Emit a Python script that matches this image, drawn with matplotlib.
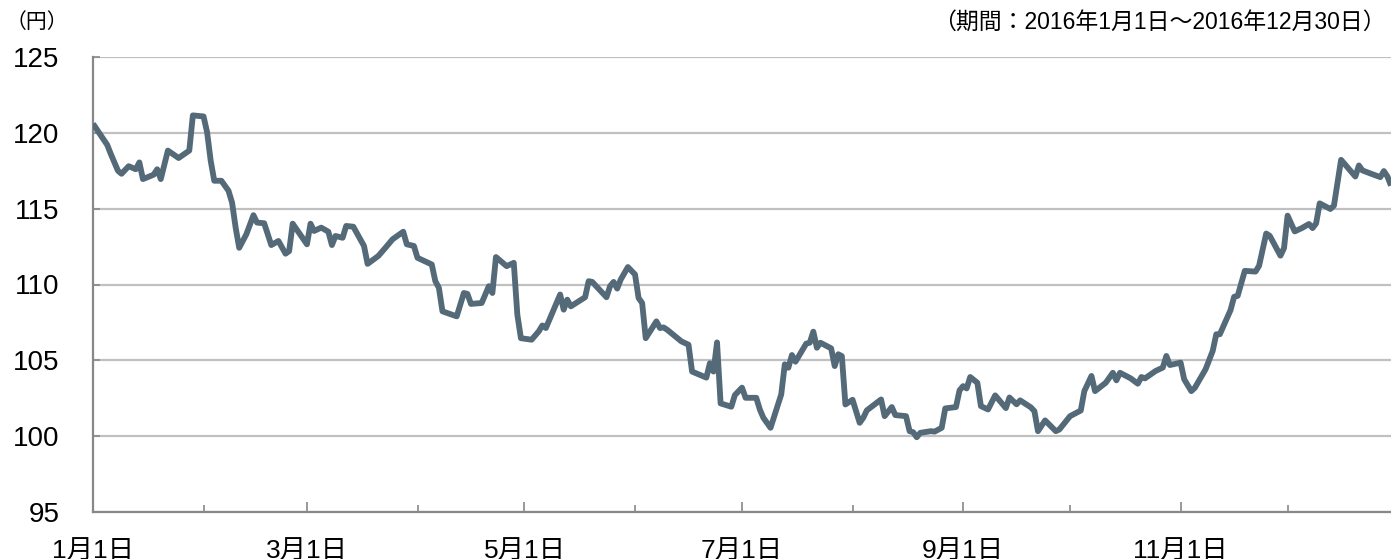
import pandas as pd
import matplotlib
matplotlib.use('Agg')
import matplotlib.pyplot as plt

plt.rcParams['font.family'] = ['Liberation Sans', 'Noto Sans CJK JP', 'DejaVu Sans']

# 2016年 為替レート（円） 1月1日からの経過日数と値
days_from_jan1 = [
    0, 2, 4, 5, 7, 8, 10, 12, 13, 14, 17, 18, 19, 21, 24, 27, 28, 31, 32, 33,
    34, 36, 38, 39, 40, 41, 43, 45, 46, 48, 50, 52, 54, 55, 56, 60, 61, 62, 64, 66,
    67, 68, 70, 71, 73, 76, 77, 80, 82, 84, 87, 88, 90, 91, 95, 96, 97, 98, 102, 104,
    105, 106, 109, 111, 112, 113, 116, 118, 119, 120, 123, 125, 126, 127, 129, 131, 132, 133, 134, 138,
    139, 140, 144, 145, 146, 147, 148, 150, 152, 153, 154, 155, 158, 159, 160, 161, 165, 167, 168, 172,
    173, 174, 175, 176, 179, 180, 182, 183, 186, 187, 188, 190, 193, 194, 195, 196, 197, 200, 201, 202,
    203, 204, 207, 208, 209, 210, 211, 213, 215, 216, 217, 221, 222, 224, 225, 228, 229, 230, 231, 232,
    235, 236, 238, 239, 242, 243, 244, 245, 246, 248, 249, 251, 253, 256, 257, 259, 260, 263, 264, 265,
    267, 270, 271, 274, 277, 278, 280, 281, 284, 286, 287, 288, 291, 293, 294, 295, 298, 300, 301, 302,
    305, 306, 308, 309, 312, 314, 315, 316, 319, 320, 321, 323, 326, 327, 329, 330, 333, 334, 335, 337,
    339, 341, 342, 343, 344, 347, 348, 350, 354, 355, 356, 358, 361, 362, 363, 364,
]
rate = [
    120.6, 119.9, 119.2, 118.6, 117.5, 117.3, 117.8, 117.6, 118.05, 116.95, 117.24, 117.6, 116.95, 118.83, 118.34, 118.83, 121.15, 121.08, 120.04, 118.17,
    116.84, 116.84, 116.18, 115.4, 113.75, 112.42, 113.31, 114.57, 114.08, 114.04, 112.6, 112.87, 112.03, 112.2, 114.01, 112.65, 114.01, 113.53, 113.75, 113.48,
    112.6, 113.2, 113.08, 113.86, 113.81, 112.54, 111.36, 111.88, 112.42, 112.98, 113.48, 112.65, 112.54, 111.76, 111.32, 110.22, 109.78, 108.23, 107.9, 109.44,
    109.38, 108.72, 108.78, 109.89, 109.44, 111.81, 111.21, 111.43, 108.01, 106.46, 106.36, 106.91, 107.3, 107.13, 108.23, 109.34, 108.34, 109.0, 108.56, 109.16,
    110.22, 110.17, 109.16, 109.89, 110.17, 109.73, 110.33, 111.15, 110.66, 109.11, 108.78, 106.46, 107.57, 107.13, 107.17, 107.02, 106.25, 106.03, 104.26, 103.86,
    104.81, 104.26, 106.18, 102.16, 101.94, 102.71, 103.2, 102.53, 102.53, 101.76, 101.21, 100.55, 102.75, 104.74, 104.51, 105.35, 104.91, 106.1, 106.16, 106.89,
    105.83, 106.16, 105.79, 104.62, 105.4, 105.28, 102.09, 102.4, 100.88, 101.21, 101.7, 102.42, 101.32, 101.92, 101.39, 101.32, 100.33, 100.26, 99.93, 100.22,
    100.33, 100.3, 100.55, 101.83, 101.92, 103.02, 103.3, 103.15, 103.9, 103.52, 101.98, 101.76, 102.69, 101.85, 102.55, 102.1, 102.36, 101.9, 101.65, 100.33,
    101.04, 100.33, 100.44, 101.32, 101.69, 102.97, 103.97, 102.97, 103.52, 104.18, 103.68, 104.18, 103.81, 103.46, 103.9, 103.81, 104.3, 104.52, 105.29, 104.69,
    104.85, 103.75, 102.97, 103.19, 104.41, 105.62, 106.72, 106.72, 108.31, 109.19, 109.25, 110.9, 110.85, 111.23, 113.36, 113.21, 111.9, 112.4, 114.54, 113.5,
    113.72, 113.99, 113.72, 114.03, 115.35, 114.98, 115.2, 118.22, 117.12, 117.85, 117.52, 117.34, 117.08, 117.48, 117.12, 116.52,
]
y_ticks = [95, 100, 105, 110, 115, 120, 125]
unit_label = '（円）'
period_label = '（期間：2016年1月1日～2016年12月30日）'

start = pd.Timestamp('2016-01-01')
month_starts = pd.date_range('2016-01-01', periods=12, freq='MS')
month_pos = [(m - start).days for m in month_starts]

fig = plt.figure(figsize=(13.91, 5.59), dpi=100)
ax = fig.add_axes([93 / 1391, 47 / 559, 1298 / 1391, 455 / 559])

ax.plot(days_from_jan1, rate, color='#546a79', linewidth=4.2,
        solid_joinstyle='round', solid_capstyle='butt', zorder=3)

ax.set_xlim(0, 364)
ax.set_ylim(95, 125)
ax.set_yticks(y_ticks)
ax.set_yticklabels([str(v) for v in y_ticks])
ax.yaxis.grid(True, color='#c0c0c0', linewidth=1.6)
ax.set_axisbelow(True)

ax.set_xticks(month_pos[::2])
ax.set_xticklabels([f'{m.month}月1日' for m in month_starts[::2]])
ax.set_xticks(month_pos[1::2], minor=True)

for s in ['top', 'right']:
    ax.spines[s].set_visible(False)
for s in ['left', 'bottom']:
    ax.spines[s].set_color('#888888')
    ax.spines[s].set_linewidth(1.6)

ax.tick_params(axis='y', direction='in', length=5, width=1.2, color='#888888',
               labelsize=20, pad=24)
ax.tick_params(axis='x', which='major', direction='in', length=7, width=1.2,
               color='#888888', labelsize=19, pad=20)
ax.tick_params(axis='x', which='minor', direction='in', length=5, width=1.2,
               color='#888888')

fig.text(6 / 1391, 1 - 22 / 559, unit_label, fontsize=15, va='center', ha='left',
         family=['Noto Sans CJK JP', 'DejaVu Sans'])
fig.text(1386 / 1391, 1 - 22 / 559, period_label, fontsize=16.5, va='center', ha='right')

plt.savefig('out.png', dpi=100)
